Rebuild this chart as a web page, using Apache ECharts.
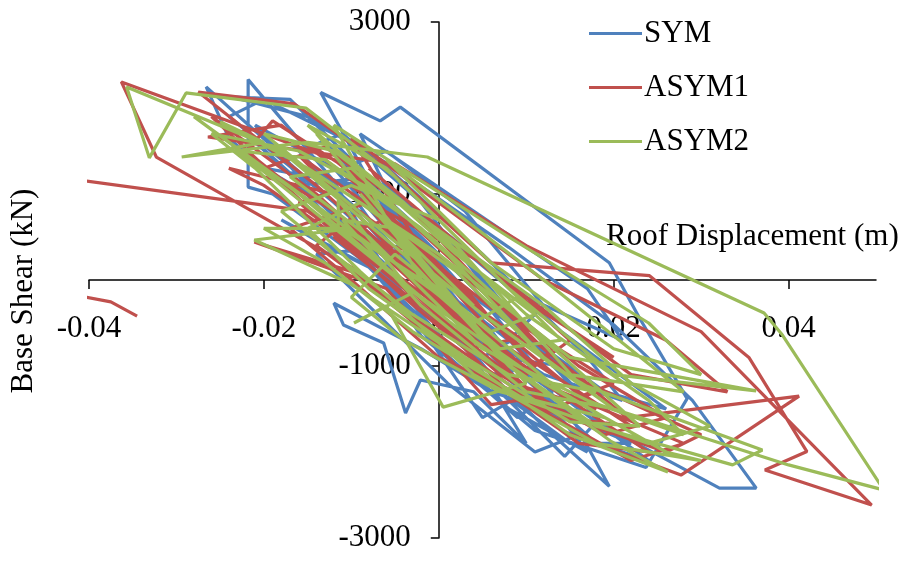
<!DOCTYPE html>
<html>
<head>
<meta charset="utf-8">
<script src="https://cdn.jsdelivr.net/npm/echarts@6/dist/echarts.min.js"></script>
<style>
  html, body { margin: 0; padding: 0; background: #fff; }
  #chart { width: 912px; height: 561px; }
</style>
</head>
<body>
<div id="chart"></div>
<script>
// Hysteresis response: roof displacement (m) vs base shear (kN)
const seriesNames = ['SYM', 'ASYM1', 'ASYM2'];
const xTicks = [-0.04, -0.02, 0, 0.02, 0.04];
const yTicks = [-3000, -1000, 1000, 3000];

const sym = [
  [0.000, 0], [0.004, -480], [-0.003, 420], [0.007, -900], [-0.006, 820],
  [0.010, -1300], [0.005, -1600], [-0.004, -250], [-0.012, 1150], [-0.0218, 2330],
  [-0.0218, 1080], [-0.019, 1000], [-0.009, 250], [0.003, -800], [0.0125, -1750],
  [0.0195, -2400], [0.0155, -1650], [0.006, -750], [-0.004, 420], [-0.0135, 2180],
  [-0.0067, 1850], [-0.0044, 2010], [0.0195, 200], [0.0230, -450], [0.0284, -1380],
  [0.0237, -2180], [0.011, -1750], [-0.002, -650], [-0.010, 520], [-0.019, 1550],
  [-0.0266, 2245], [-0.024, 1650], [-0.015, 850], [-0.004, -250], [0.008, -1400],
  [0.0144, -2050], [0.018, -1650], [0.0321, -2420], [0.0363, -2420], [0.029, -1400],
  [0.020, -520], [0.008, 380], [-0.005, 1300], [-0.015, 1900], [-0.0238, 2130],
  [-0.017, 2100], [-0.010, 1400], [-0.001, 300], [0.009, -800], [0.015, -1600],
  [0.006, -1300], [-0.002, -800], [-0.012, -270], [-0.0109, -523], [-0.0063, -733],
  [-0.0038, -1547], [-0.0021, -1163], [0.004, -1300], [0.010, -1900], [0.004, -900],
  [-0.006, 400], [-0.016, 1500], [-0.011, 1700], [-0.002, 900], [0.007, -300],
  [0.016, -1300], [0.012, -1500], [0.003, -500], [-0.008, 700], [-0.014, 1250],
  [-0.006, 900], [0.004, -100], [0.011, -1000], [0.006, -1100], [-0.003, 0],
  [-0.010, 1000], [-0.004, 700], [0.002, 0],
  [-0.013, 1600], [0.002, 200], [0.014, -1100], [0.019, -1750], [0.009, -1200],
  [-0.003, 100], [-0.017, 1350], [-0.021, 1800], [-0.012, 1300], [0.000, -100],
  [0.012, -1350], [0.017, -2000], [0.008, -1500], [-0.005, -200], [-0.015, 1000],
  [-0.020, 1300], [-0.009, 1100], [0.003, -200], [0.013, -1500], [0.022, -1900],
  [0.015, -1900], [0.003, -1000], [-0.007, 200], [-0.013, 700], [-0.006, 600],
  [0.005, -700], [0.013, -1300], [0.009, -1600], [-0.001, -700], [-0.009, 300],
  [-0.016, 1100], [-0.008, 1200], [0.001, 500], [0.010, -600], [0.005, -900],
  [0.000, -400],
  [-0.022, 1700], [-0.010, 600], [0.004, -600], [0.018, -1900], [0.024, -2100],
  [0.016, -1500], [0.002, -400], [-0.012, 900], [-0.024, 1900], [-0.020, 2100],
  [-0.008, 1500], [0.005, 300], [0.017, -900], [0.021, -1400], [0.012, -1100],
  [-0.001, -200], [-0.013, 400], [-0.018, 700], [-0.007, 100], [0.006, -1000],
  [0.016, -1800], [0.011, -2000], [0.001, -1200], [-0.008, -300], [-0.014, 300],
  [-0.004, 400], [0.008, -500], [0.014, -1000], [0.007, -900], [-0.002, 200],
  [-0.011, 1300], [-0.006, 1500], [0.003, 800], [0.012, -300], [0.008, -700],
  [-0.001, 0],
  [-0.009, 1700], [0.017, -100], [0.021, -700], [0.010, -200], [-0.006, 1100],
  [0.014, -600], [0.026, -1500], [0.019, -1300], [0.004, -200]
];

const asym1 = [
  [-0.0345, -420], [-0.0375, -255], [-0.0470, -70], [-0.0470, 1244], [-0.0150, 800],
  [-0.0040, 0], [0.0050, -700], [-0.0040, 350], [0.0080, -1050], [-0.0080, 850],
  [0.0120, -1350], [0.0060, -1450], [-0.0060, -100], [-0.0211, 442], [-0.0100, 100],
  [0.0020, -900], [0.0140, -1750], [0.0277, -2268], [0.0412, -1350], [0.0215, -1600],
  [0.0120, -800], [0.0000, 400], [-0.0120, 1400], [-0.0363, 2303], [-0.0323, 1430],
  [-0.0100, 150], [0.0040, -1000], [0.0160, -1900], [0.0240, -2000], [0.0120, -1200],
  [-0.0020, 0], [-0.0140, 1100], [-0.0275, 2186], [-0.0165, 2047], [-0.0060, 1300],
  [0.0060, 200], [0.0241, 50], [0.0355, -905], [0.0421, -1995], [0.0373, -2210],
  [0.0495, -2617], [0.0300, -600], [0.0100, 400], [-0.0050, 1350], [-0.0264, 1663],
  [-0.0180, 1800], [-0.0080, 1000], [0.0050, -400], [0.0180, -1500], [0.0100, -1250],
  [-0.0010, -200], [-0.0120, 800], [-0.0200, 1300], [-0.0130, 1550], [-0.0020, 700],
  [0.0090, -500], [0.0200, -1200], [0.0150, -1400], [0.0030, -500], [-0.0090, 500],
  [-0.0020, 300], [0.0060, -600], [0.0000, -200],
  [-0.0160, 1450], [-0.0030, 500], [0.0100, -900], [0.0220, -1700], [0.0140, -1600],
  [0.0020, -600], [-0.0110, 600], [-0.0220, 1500], [-0.0190, 1850], [-0.0090, 1200],
  [0.0040, 0], [0.0160, -1000], [0.0260, -1600], [0.0190, -1800], [0.0070, -1100],
  [-0.0040, -100], [-0.0160, 900], [-0.0100, 1100], [0.0010, 200], [0.0130, -800],
  [0.0100, -1100], [-0.0010, -400], [-0.0120, 500], [-0.0060, 700], [0.0030, -100],
  [0.0080, -700], [0.0030, -800], [-0.0040, -200],
  [-0.0260, 1900], [-0.0140, 1000], [0.0000, -300], [0.0140, -1300], [0.0280, -1900],
  [0.0220, -2100], [0.0080, -1300], [-0.0060, 100], [-0.0200, 1100], [-0.0240, 1300],
  [-0.0120, 1000], [0.0020, 0], [0.0170, -1200], [0.0300, -1800], [0.0260, -2000],
  [0.0120, -1500], [-0.0020, -500], [-0.0140, 400], [-0.0090, 800], [0.0040, -300],
  [0.0180, -1300], [0.0130, -1500], [0.0000, -900], [-0.0100, 0], [-0.0170, 600],
  [-0.0080, 900], [0.0050, 200], [0.0150, -700], [0.0110, -1000], [0.0010, -300],
  [-0.0070, 400], [-0.0010, 200],
  [-0.0100, 1650], [0.0120, 0], [0.0260, -700], [0.0330, -1300], [0.0220, -1100],
  [0.0060, 100], [-0.0080, 1300], [0.0100, -250], [0.0200, -900], [0.0140, -500]
];

const asym2 = [
  [0.0000, 0], [-0.0030, 350], [0.0040, -500], [-0.0060, 700], [0.0070, -900],
  [-0.0090, 1000], [0.0100, -1200], [0.0005, -1478], [-0.0060, -300], [-0.0097, -500],
  [-0.0030, -150], [-0.0115, 930], [-0.0115, 580], [-0.0211, 465], [-0.0100, -50],
  [0.0040, -1000], [0.0150, -1800], [0.0262, -2233], [0.0196, -1870], [0.0080, -1000],
  [-0.0040, 300], [-0.0180, 1500], [-0.0357, 2245], [-0.0331, 1420], [-0.0289, 2175],
  [-0.0152, 2000], [-0.0050, 1200], [0.0080, -100], [0.0200, -1100], [0.0363, -1290],
  [0.0150, -900], [0.0000, 300], [-0.0150, 1300], [-0.0250, 1840], [-0.0200, 1600],
  [-0.0294, 1430], [-0.0150, 1600], [-0.0013, 1430], [0.0372, -384], [0.0393, -640],
  [0.0509, -2442], [0.0400, -2150], [0.0200, -1500], [0.0050, -400], [-0.0080, 700],
  [-0.0200, 1700], [-0.0120, 1500], [0.0020, 400], [0.0160, -1200], [0.0370, -1977],
  [0.0336, -2150], [0.0180, -1700], [0.0040, -700], [-0.0080, 500], [-0.0170, 1200],
  [-0.0100, 1300], [0.0010, 300], [0.0120, -900], [0.0200, -1500], [0.0100, -1300],
  [-0.0020, -300], [-0.0110, 700], [-0.0050, 600], [0.0040, -300], [0.0000, 0],
  [-0.0140, 1700], [-0.0040, 900], [0.0100, -400], [0.0240, -1400], [0.0280, -1800],
  [0.0170, -1400], [0.0050, -800], [-0.0070, 200], [-0.0180, 1100], [-0.0230, 1500],
  [-0.0130, 1400], [-0.0020, 600], [0.0110, -600], [0.0230, -1700], [0.0150, -1650],
  [0.0030, -900], [-0.0080, -100], [-0.0150, 600], [-0.0090, 900], [0.0020, 100],
  [0.0130, -1000], [0.0180, -1300], [0.0080, -1100], [-0.0030, -400], [-0.0120, 300],
  [-0.0180, 800], [-0.0100, 1100], [0.0000, 700], [0.0090, -200], [0.0040, -500],
  [-0.0010, -100],
  [-0.0280, 1900], [-0.0160, 1000], [-0.0020, -200], [0.0120, -1200], [0.0260, -2000],
  [0.0300, -2100], [0.0180, -1900], [0.0040, -1100], [-0.0090, 100], [-0.0210, 1300],
  [-0.0260, 1700], [-0.0160, 1500], [-0.0030, 800], [0.0120, -300], [0.0220, -1200],
  [0.0310, -1700], [0.0240, -1900], [0.0100, -1400], [-0.0030, -600], [-0.0130, 200],
  [-0.0200, 600], [-0.0110, 600], [0.0010, -200], [0.0140, -1300], [0.0190, -1600],
  [0.0070, -1300], [-0.0040, -700], [-0.0100, -200], [-0.0050, 300], [0.0060, -600],
  [0.0110, -400], [0.0020, 300], [-0.0080, 1200], [-0.0150, 1800], [-0.0060, 1300],
  [0.0040, 300], [0.0140, -700], [0.0070, -800], [-0.0020, 0],
  [-0.0120, 1800], [0.0080, 500], [0.0240, -500], [0.0300, -1100], [0.0200, -800],
  [0.0060, 200], [-0.0060, 1400], [0.0120, 0], [0.0280, -1300], [0.0150, -1100]
];

const colors = ['#4F81BD', '#C0504D', '#9BBB59'];
const serif = '"Liberation Serif", "Times New Roman", "DejaVu Serif", serif';
const fontSize = 31;
const gridBox = { left: 89, right: 36, top: 22, bottom: 23 };

const chart = echarts.init(document.getElementById('chart'), null, { renderer: 'canvas' });

const makeSeries = (name, data, color) => ({
  name,
  type: 'line',
  data,
  showSymbol: false,
  symbol: 'none',
  clip: true,
  lineStyle: { color, width: 3.2 },
  itemStyle: { color },
  emphasis: { disabled: true },
  animation: false
});

chart.setOption({
  animation: false,
  color: colors,
  grid: Object.assign({ containLabel: false, outerBoundsMode: 'none' }, gridBox),
  legend: {
    orient: 'vertical',
    left: 584,
    top: 13,
    itemWidth: 53,
    itemHeight: 14,
    itemGap: 23,
    textStyle: { fontFamily: serif, fontSize, color: '#000', padding: [0, 0, 0, -3] },
    data: seriesNames.map((n, i) => ({ name: n, itemStyle: { color: colors[i] }, icon: 'path://M0,6 L53,6 L53,9 L0,9 Z' }))
  },
  xAxis: {
    type: 'value',
    min: -0.04,
    max: 0.05,
    interval: 0.02,
    axisLine: { onZero: false, lineStyle: { color: '#000', width: 1.5 } },
    axisTick: { show: true, length: 9, customValues: xTicks, lineStyle: { color: '#000', width: 1.5 } },
    axisLabel: {
      customValues: xTicks,
      margin: 33,
      fontFamily: serif, fontSize, color: '#000',
      formatter: v => String(v)
    },
    splitLine: { show: false }
  },
  yAxis: {
    type: 'value',
    min: -3000,
    max: 3000,
    interval: 2000,
    axisLine: { onZero: false, lineStyle: { color: '#000', width: 1.5 } },
    axisTick: { show: true, length: 8, customValues: yTicks, lineStyle: { color: '#000', width: 1.5 } },
    axisLabel: {
      customValues: yTicks,
      margin: 28,
      fontFamily: serif, fontSize, color: '#000',
      formatter: v => String(v)
    },
    splitLine: { show: false }
  },
  graphic: [
    {
      type: 'text',
      left: 606,
      top: 221,
      style: { text: 'Roof Displacement (m)', fontFamily: serif, fontSize, fill: '#000' }
    },
    {
      type: 'text',
      x: 24,
      y: 291,
      rotation: Math.PI / 2,
      style: { text: 'Base Shear (kN)', fontFamily: serif, fontSize, fill: '#000', align: 'center', verticalAlign: 'middle' }
    }
  ],
  series: [
    makeSeries(seriesNames[0], sym, colors[0]),
    makeSeries(seriesNames[1], asym1, colors[1]),
    makeSeries(seriesNames[2], asym2, colors[2])
  ]
});

// Move both axes (line, ticks, labels) so they cross at the origin
const origin = chart.convertToPixel({ gridIndex: 0 }, [0, 0]);
const plotBottom = 561 - gridBox.bottom;
chart.setOption({
  xAxis: { offset: -(plotBottom - origin[1]) },
  yAxis: { offset: -(origin[0] - gridBox.left) }
});
</script>
</body>
</html>
